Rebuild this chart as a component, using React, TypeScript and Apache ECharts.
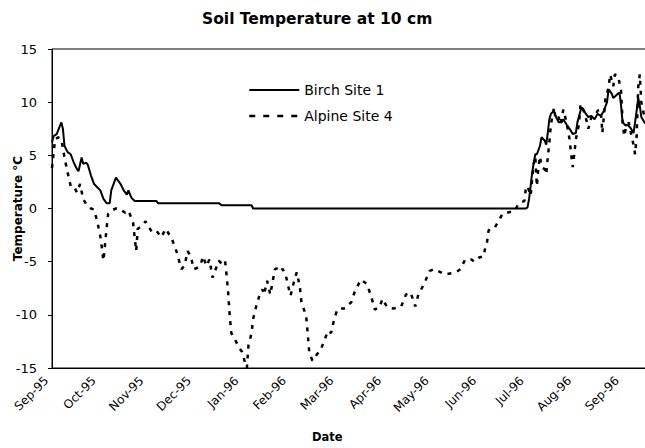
import React, { useEffect, useRef } from "react";
import * as echarts from "echarts";

const monthLabels = ["Sep-95", "Oct-95", "Nov-95", "Dec-95", "Jan-96", "Feb-96", "Mar-96", "Apr-96", "May-96", "Jun-96", "Jul-96", "Aug-96", "Sep-96"];
const yTicks = [-15, -10, -5, 0, 5, 10, 15];

// days since 1 Sep 1995
const birchDays = [0,1,3,6,7,8,10,12,14,16,17,19,20,22,23,25,27,29,31,33,35,37,38,41,43,44,46,48,49,51,53,67,68,107,109,128,129,304,305,306,307,308,309,310,311,313,314,316,317,318,319,320,322,323,325,327,328,330,332,334,336,337,339,340,342,344,346,348,350,352,354,356,357,359,360,363,364,365,366,368,369,371,373,374,375,376,377,378,380,382];
const birchTemps = [6.2,6.8,7.0,8.1,7.5,5.9,5.3,5.1,4.3,3.7,3.5,4.8,4.2,4.3,4.1,3.1,2.3,2.0,1.7,0.9,0.5,0.5,1.7,2.9,2.5,2.3,1.7,1.3,1.7,1.0,0.7,0.7,0.5,0.5,0.3,0.3,0.0,0.0,0.1,0.9,2.1,3.4,4.3,5.1,5.1,5.9,6.7,6.4,6.0,7.1,8.4,8.9,9.2,8.7,8.1,8.1,8.4,7.9,7.5,7.0,7.1,8.1,9.2,9.5,9.0,8.6,8.7,8.4,8.9,8.7,9.2,10.0,11.2,10.8,10.4,10.8,10.9,9.7,8.1,7.8,7.9,7.6,7.1,8.1,9.2,10.4,9.7,8.6,8.1,7.8];

const alpineDays = [0,1,2,4,6,8,10,12,14,16,18,20,22,25,27,29,31,32,33,35,36,38,41,43,47,49,52,53,54,55,58,60,64,67,70,73,77,80,83,85,87,89,91,93,95,97,99,101,103,105,107,109,111,112,113,114,115,118,120,122,124,125,126,128,129,131,133,135,136,138,140,143,145,146,148,150,151,153,155,157,159,160,163,164,165,167,168,170,172,175,177,179,181,183,185,188,192,194,198,202,205,207,210,212,215,219,222,224,227,230,233,235,239,242,245,252,259,262,265,269,271,274,277,278,279,280,281,284,286,289,292,297,299,301,303,304,305,307,308,309,310,311,312,313,314,316,317,318,319,320,322,323,325,326,328,330,332,333,334,335,336,338,339,341,343,344,346,348,350,352,353,355,357,358,360,361,363,365,366,367,368,370,371,373,374,375,376,377,378,380,381];
const alpineTemps = [3.8,5.2,6.5,6.7,6.5,4.8,3.4,2.1,2.1,1.5,2.3,0.9,0.4,0.0,-0.1,-1.2,-2.6,-3.7,-4.9,-1.9,-0.5,-0.2,0.0,0.0,-0.4,-0.2,-1.3,-2.7,-4.0,-1.9,-1.6,-1.2,-2.2,-2.1,-2.7,-1.9,-2.9,-4.1,-5.7,-5.4,-4.0,-4.5,-5.7,-5.6,-5.4,-4.5,-5.4,-4.8,-6.5,-5.7,-4.9,-5.2,-4.9,-6.3,-7.9,-10.1,-11.7,-12.5,-13.1,-13.5,-14.6,-15.0,-12.9,-11.7,-10.4,-9.2,-8.2,-7.6,-8.1,-6.8,-8.1,-5.7,-5.6,-5.9,-5.7,-6.3,-7.0,-8.2,-7.0,-6.0,-7.4,-8.8,-10.1,-11.7,-13.5,-14.3,-14.2,-13.7,-13.4,-12.3,-11.5,-11.7,-10.4,-9.5,-9.4,-9.4,-8.8,-7.9,-6.7,-7.1,-8.4,-9.5,-9.3,-8.5,-9.3,-9.4,-9.3,-9.2,-8.1,-7.9,-9.2,-8.1,-7.0,-5.9,-5.7,-6.2,-6.0,-5.7,-4.8,-4.8,-5.0,-4.6,-4.5,-3.5,-3.2,-2.1,-1.9,-1.8,-1.3,-0.5,-0.4,-0.2,0.4,0.6,0.7,2.0,2.1,1.2,2.8,4.2,4.9,2.1,3.9,4.9,3.9,3.7,3.2,4.8,6.2,7.9,9.5,8.4,8.6,7.9,9.3,8.1,6.5,5.1,3.9,5.1,6.5,7.9,9.8,9.2,8.2,7.5,8.6,8.7,9.2,9.3,7.1,10.3,11.4,12.6,11.5,12.6,12.5,11.1,8.1,6.8,7.5,8.1,7.3,6.0,5.1,6.8,11.4,12.6,10.0,8.6,8.4];

const MONTH_STEP = 30.5;
const FONT = "DejaVu Sans";

export default function App() {
  const ref = useRef<HTMLDivElement>(null);
  useEffect(() => {
    if (!ref.current) return;
    const chart = echarts.init(ref.current, null, { renderer: "svg" });
    const birch = birchDays.map((d, i) => [d, birchTemps[i]]);
    const alpine = alpineDays.map((d, i) => [d, alpineTemps[i]]);
    chart.setOption({
      animation: false,
      backgroundColor: "#fff",
      title: [
        {
          text: "Soil Temperature at 10 cm",
          left: 197,
          top: 6,
          padding: 5,
          textStyle: { fontFamily: FONT, fontWeight: "bold", fontSize: 15.5, color: "#000" },
        },
        {
          text: "Date",
          left: 307,
          top: 426,
          padding: 5,
          textStyle: { fontFamily: FONT, fontWeight: "bold", fontSize: 11.5, color: "#000" },
        },
      ],
      legend: {
        orient: "vertical",
        left: 243,
        top: 78,
        itemWidth: 50,
        itemHeight: 14,
        itemGap: 12,
        itemStyle: { opacity: 0 },
        textStyle: { fontFamily: FONT, fontSize: 14, color: "#000" },
        data: [
          { name: "Birch Site 1" },
          { name: "Alpine Site 4", lineStyle: { type: [6, 8], width: 2.5 } },
        ],
      },
      grid: {
        left: 52,
        right: -1,
        top: 49,
        bottom: 80,
        outerBoundsMode: "none",
        containLabel: false,
        show: true,
        borderColor: "#000",
        borderWidth: 1,
        backgroundColor: "transparent",
      },
      xAxis: {
        type: "value",
        min: 0,
        max: 381,
        interval: MONTH_STEP,
        axisLine: { show: true, onZero: false, lineStyle: { color: "#000", width: 1 } },
        axisTick: { show: false },
        splitLine: { show: false },
        axisLabel: {
          rotate: 45,
          margin: 5,
          padding: [0, 8, 0, 0],
          fontFamily: FONT,
          fontSize: 12,
          color: "#000",
          showMaxLabel: true,
          formatter: (v: number) => {
            const k = v / MONTH_STEP;
            const r = Math.round(k);
            return Math.abs(k - r) < 0.01 && monthLabels[r] ? monthLabels[r] : "";
          },
        },
      },
      yAxis: {
        type: "value",
        min: yTicks[0],
        max: yTicks[yTicks.length - 1],
        interval: 5,
        name: "Temperature °C",
        nameLocation: "middle",
        nameGap: 28,
        nameMoveOverlap: false,
        nameTextStyle: { fontFamily: FONT, fontWeight: "bold", fontSize: 12, color: "#000" },
        axisLine: { show: true, onZero: false, lineStyle: { color: "#000", width: 1 } },
        axisTick: { show: true, inside: false, length: 4, lineStyle: { color: "#000" } },
        splitLine: { show: false },
        axisLabel: { fontFamily: FONT, fontSize: 13, color: "#000", margin: 15 },
      },
      series: [
        {
          name: "Birch Site 1",
          type: "line",
          data: birch,
          symbol: "none",
          showSymbol: false,
          lineStyle: { color: "#000", width: 2 },
          itemStyle: { color: "#000" },
        },
        {
          name: "Alpine Site 4",
          type: "line",
          data: alpine,
          symbol: "none",
          showSymbol: false,
          lineStyle: { color: "#000", width: 2.5, type: [4, 6] },
          itemStyle: { color: "#000" },
        },
      ],
    });
    return () => chart.dispose();
  }, []);
  return (
    <div
      ref={ref}
      style={{ position: "fixed", left: 0, top: 0, width: 645, height: 448, background: "#fff" }}
    />
  );
}
